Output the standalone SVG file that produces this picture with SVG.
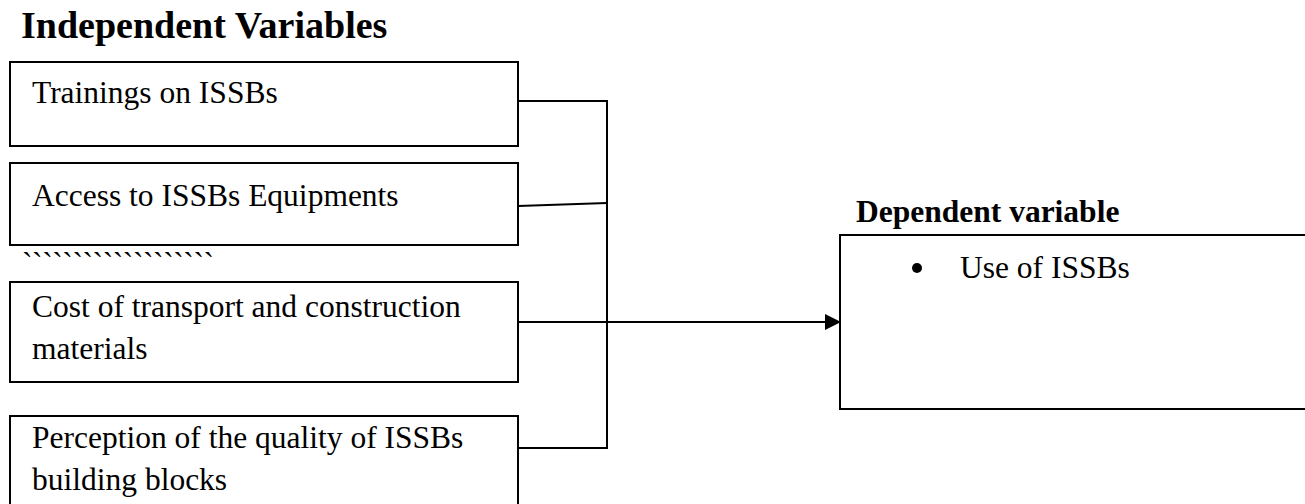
<svg xmlns="http://www.w3.org/2000/svg" width="1305" height="504" viewBox="0 0 1305 504">
<style>
.box{fill:#fff;stroke:#000;stroke-width:2}
.t{font-family:"Liberation Serif","Times New Roman",serif;font-size:31.5px;fill:#000}
.b{font-family:"Liberation Serif","Times New Roman",serif;font-weight:bold;fill:#000}
.c{fill:none;stroke:#000;stroke-width:2}
</style>
<defs>
<marker id="arr" markerWidth="8" markerHeight="8" refX="7" refY="4" orient="auto" markerUnits="strokeWidth">
<path d="M0,0 L8,4 L0,8 Z" fill="#000"/>
</marker>
</defs>
<text class="b" x="21" y="38" font-size="38">Independent Variables</text>
<g id="n1"><rect class="box" x="10" y="62" width="508" height="84"/><text class="t" x="32" y="103">Trainings on ISSBs</text></g>
<g id="n2"><rect class="box" x="10" y="163" width="508" height="82"/><text class="t" x="32" y="206">Access to ISSBs Equipments</text></g>
<text class="t" x="22" y="274" textLength="192">```````````````````</text>
<g id="n3"><rect class="box" x="10" y="282" width="508" height="100"/><text class="t" x="32" y="317">Cost of transport and construction</text><text class="t" x="32" y="359">materials</text></g>
<g id="n4"><rect class="box" x="10" y="416" width="508" height="100"/><text class="t" x="32" y="448">Perception of the quality of ISSBs</text><text class="t" x="32" y="490">building blocks</text></g>
<text class="b" x="856" y="222" font-size="31.5">Dependent variable</text>
<g id="n5"><rect class="box" x="840" y="235" width="480" height="174"/><circle cx="917" cy="268" r="5"/><text class="t" x="960" y="278">Use of ISSBs</text></g>
<g id="connectors">
<polyline class="c" points="518,101 607,101 607,448 518,448"/>
<polyline class="c" points="518,206 607,203"/>
<line class="c" x1="518" y1="322" x2="839" y2="322" marker-end="url(#arr)"/>
</g>
</svg>
